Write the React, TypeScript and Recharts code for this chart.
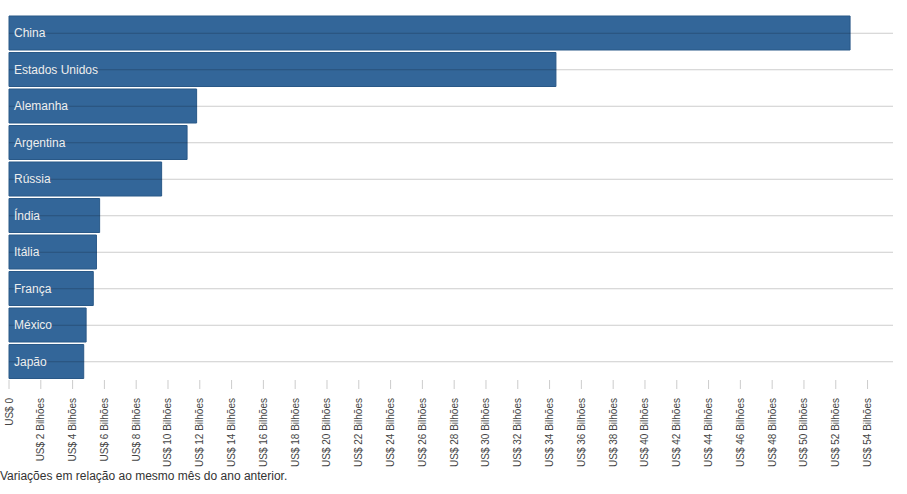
import React from 'react'
import { BarChart, Bar, XAxis, YAxis, ReferenceLine, LabelList } from 'recharts'

const paises = ['China', 'Estados Unidos', 'Alemanha', 'Argentina', 'Rússia', 'Índia', 'Itália', 'França', 'México', 'Japão']
const valores = [52.9, 34.4, 11.8, 11.2, 9.6, 5.7, 5.5, 5.3, 4.85, 4.7]
const ticks = [0, 2, 4, 6, 8, 10, 12, 14, 16, 18, 20, 22, 24, 26, 28, 30, 32, 34, 36, 38, 40, 42, 44, 46, 48, 50, 52, 54]

const data = paises.map((nome, i) => ({ nome, valor: valores[i] }))

const FONTE = "'Liberation Sans', Arial, sans-serif"

function formatTick(v: number): string {
  if (v === 0) return 'US$ 0'
  return `US$ ${v} Bilhões`
}

function TickRotado(props: any) {
  const { x, y, payload } = props
  return (
    <text
      x={x}
      y={y + 7}
      dy="0.35em"
      textAnchor="end"
      transform={`rotate(-90, ${x}, ${y + 7})`}
      fontSize={10}
      fill="#444"
      fontFamily={FONTE}
    >
      {formatTick(payload.value)}
    </text>
  )
}

function SemTick() {
  return <g />
}

export default function App() {
  return (
    <div style={{ width: 907, fontFamily: FONTE }}>
      <style>{'body { margin: 0; }'}</style>
      <BarChart
        width={907}
        height={468}
        data={data}
        layout="vertical"
        margin={{ top: 15, right: 14, left: 9, bottom: 0 }}
        barCategoryGap={2.5}
        style={{ overflow: 'visible' }}
      >
        <XAxis
          type="number"
          domain={[0, 55.6]}
          ticks={ticks}
          interval={0}
          axisLine={false}
          tickSize={9}
          tickLine={{ stroke: '#ccc' }}
          height={88}
          tick={<TickRotado />}
        />
        <YAxis
          type="category"
          dataKey="nome"
          width={0}
          tick={<SemTick />}
          tickLine={false}
          axisLine={{ stroke: '#333' }}
        />
        <Bar dataKey="valor" fill="#336699" stroke="#295887" strokeWidth={1} barSize={34} isAnimationActive={false}>
          <LabelList
            dataKey="nome"
            position="insideLeft"
            offset={5}
            fill="#eee"
            fontSize={12}
            fontFamily={FONTE}
          />
        </Bar>
        {paises.map((p) => (
          <ReferenceLine key={p} y={p} stroke="rgba(0,0,0,0.2)" strokeWidth={1} />
        ))}
      </BarChart>
      <div style={{ fontSize: 12, color: '#333', lineHeight: '14px', marginTop: 1 }}>
        Variações em relação ao mesmo mês do ano anterior.
      </div>
    </div>
  )
}
